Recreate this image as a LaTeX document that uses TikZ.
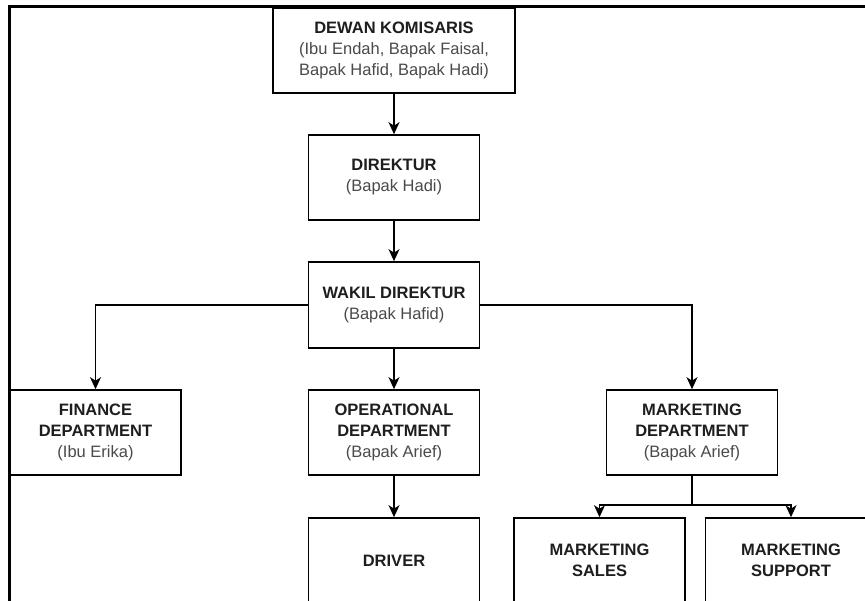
\documentclass[tikz,border=0pt]{standalone}
\usepackage{fontspec}
\setmainfont{Liberation Sans}
\usetikzlibrary{arrows.meta}
\definecolor{titre}{HTML}{1e1e1e}
\definecolor{nom}{HTML}{4a4a4a}
\tikzset{
  boite/.style={draw=black, line width=1.6pt, fill=white, inner sep=0pt,
    minimum width=171pt, minimum height=85pt, align=center,
    font=\fontsize{16.5}{21}\selectfont, text=titre},
  fleche/.style={line width=1.5pt, -{Stealth[length=12pt,width=11pt,inset=3.5pt]}},
  lien/.style={line width=1.5pt}
}
\newcommand{\nomde}[1]{{\color{nom}#1}}
\begin{document}
\begin{tikzpicture}[x=1pt,y=1pt]
    \useasboundingbox (0,0) rectangle (865,-601);
    \clip (0,0) rectangle (865,-601);
    % cadre
    \draw[line width=2.6pt] (9.5,-601) -- (9.5,-6.5) -- (865,-6.5);
    % direction
    \node[boite, minimum width=242pt] (dk) at (394,-50.5)
      {\textbf{DEWAN KOMISARIS}\\\nomde{(Ibu Endah, Bapak Faisal,}\\\nomde{Bapak Hafid, Bapak Hadi)}};
    \node[boite] (dir) at (394,-177.5) {\textbf{DIREKTUR}\\\nomde{(Bapak Hadi)}};
    \node[boite, minimum height=86pt] (wak) at (394,-305) {\textbf{WAKIL DIREKTUR}\\\nomde{(Bapak Hafid)}};
    % departements
    \node[boite] (fin) at (95.5,-432.5) {\textbf{FINANCE}\\\textbf{DEPARTMENT}\\\nomde{(Ibu Erika)}};
    \node[boite] (ops) at (394,-432.5) {\textbf{OPERATIONAL}\\\textbf{DEPARTMENT}\\\nomde{(Bapak Arief)}};
    \node[boite] (mkt) at (692,-432.5) {\textbf{MARKETING}\\\textbf{DEPARTMENT}\\\nomde{(Bapak Arief)}};
    % equipes
    \node[boite] (drv) at (394,-560.5) {\textbf{DRIVER}};
    \node[boite] (mks) at (599.5,-560.5) {\textbf{MARKETING}\\\textbf{SALES}};
    \node[boite] (mksup) at (791,-560.5) {\textbf{MARKETING}\\\textbf{SUPPORT}};
    % liaisons
    \draw[fleche] (dk) -- (dir);
    \draw[fleche] (dir) -- (wak);
    \draw[fleche] (wak) -- (ops);
    \draw[fleche] (wak.west) -| (fin.north);
    \draw[fleche] (wak.east) -| (mkt.north);
    \draw[fleche] (ops) -- (drv);
    \draw[lien] (mkt.south) -- ++(0,-29) coordinate (bras);
    \draw[fleche] (bras) -| (mks.north);
    \draw[fleche] (bras) -| (mksup.north);
  \end{tikzpicture}
\end{document}
